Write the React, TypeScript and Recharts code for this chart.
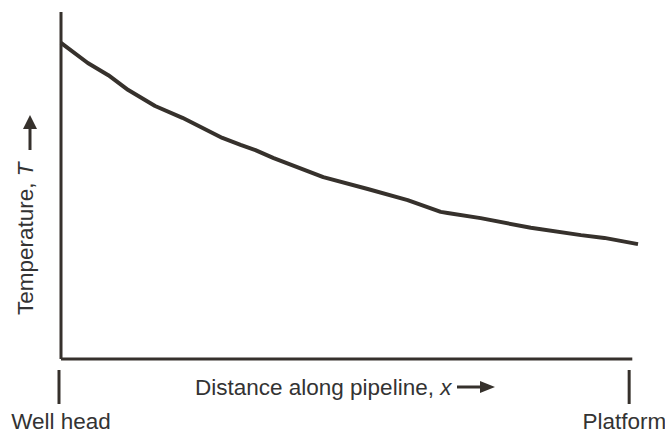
import { LineChart, Line, XAxis, YAxis, ReferenceLine, Label } from 'recharts'

// distance along pipeline (0 = well head, 100 = platform)
const distance = [0, 4.7, 8.3, 11.8, 16.5, 21.3, 28.3, 31.5, 34.1, 37.3, 46.0, 53.8, 60.8, 66.6, 67.8, 73.6, 82.4, 91.2, 95.3, 101.2]
const temperature = [91.1, 85.3, 81.8, 77.5, 72.9, 69.5, 63.7, 61.7, 60.2, 57.9, 52.4, 49.0, 45.8, 42.4, 42.1, 40.6, 37.8, 35.7, 34.9, 33.1]

const tickValues = [0, 100]
const tickLabels = ['Well head', 'Platform']

const data = distance.map((d, i) => ({ x: d, t: temperature[i] }))

const INK = '#36312c'
const TEXT = '#333333'
const FONT = '"Liberation Sans", Arial, sans-serif'

const EndTick = (props: any) => {
  const { x, y, payload } = props
  const i = tickValues.indexOf(payload.value)
  const last = i === tickValues.length - 1
  return (
    <g>
      <line x1={x - 2} x2={x - 2} y1={y + 11} y2={y + 45} stroke={INK} strokeWidth={3} />
      <text
        x={last ? x + 35 : x}
        y={y + 70}
        textAnchor={last ? 'end' : 'middle'}
        fontSize={22.5}
        fontFamily={FONT}
        fill={TEXT}
      >
        {tickLabels[i]}
      </text>
    </g>
  )
}

const XTitle = (props: any) => {
  const { x, y } = props.viewBox
  const tx = x + 134
  const ty = y + 36
  return (
    <g>
      <text x={tx} y={ty} fontSize={22.5} fontFamily={FONT} fill={TEXT}>
        Distance along pipeline, <tspan fontStyle="italic">x</tspan>
      </text>
      <line x1={x + 396} x2={x + 422} y1={ty - 8} y2={ty - 8} stroke={INK} strokeWidth={3} />
      <polygon
        points={`${x + 419},${ty - 14} ${x + 434},${ty - 8} ${x + 419},${ty - 2}`}
        fill={INK}
      />
    </g>
  )
}

const YTitle = (props: any) => {
  const { y } = props.viewBox
  const bx = 33
  const by = y + 303
  return (
    <g>
      <text
        x={bx}
        y={by}
        transform={`rotate(-90, ${bx}, ${by})`}
        fontSize={22.5}
        fontFamily={FONT}
        fill={TEXT}
      >
        Temperature, <tspan fontStyle="italic">T</tspan>
      </text>
      <line x1={30} x2={30} y1={y + 138} y2={y + 114} stroke={INK} strokeWidth={3} />
      <polygon points={`23,${y + 117} 30,${y + 103} 37,${y + 117}`} fill={INK} />
    </g>
  )
}

export default function App() {
  return (
    <div style={{ position: 'absolute', left: 0, top: 0, background: '#fff' }}>
      <LineChart
        width={665}
        height={435}
        data={data}
        margin={{ top: 12, right: 27, left: 0, bottom: 0 }}
      >
        <XAxis
          dataKey="x"
          type="number"
          domain={[0, 101.2]}
          ticks={tickValues}
          tick={<EndTick />}
          tickLine={false}
          tickSize={0}
          tickMargin={0}
          axisLine={false}
          height={76}
          interval={0}
        >
          <Label content={<XTitle />} />
        </XAxis>
        <YAxis
          type="number"
          domain={[0, 100]}
          width={61}
          tick={false}
          tickLine={false}
          axisLine={{ stroke: INK, strokeWidth: 3 }}
        >
          <Label content={<YTitle />} />
        </YAxis>
        <ReferenceLine
          segment={[{ x: 0, y: 0 }, { x: 100.2, y: 0 }]}
          stroke={INK}
          strokeWidth={3}
        />
        <Line
          dataKey="t"
          type="linear"
          stroke={INK}
          strokeWidth={4}
          strokeLinejoin="round"
          dot={false}
          activeDot={false}
          isAnimationActive={false}
        />
      </LineChart>
    </div>
  )
}
